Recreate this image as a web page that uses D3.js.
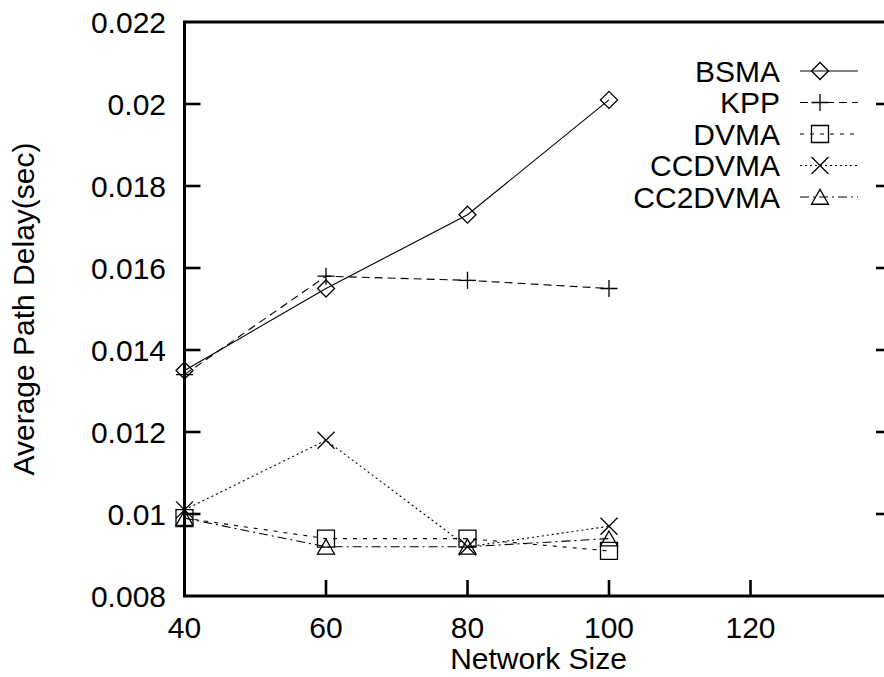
<!DOCTYPE html>
<html><head><meta charset="utf-8">
<script src="https://cdn.jsdelivr.net/npm/d3@7"></script>
<style>body{margin:0;background:#fff}svg{display:block}text{font-family:"Liberation Sans",Arial,sans-serif;fill:#000}</style>
</head><body>
<svg id="c" width="884" height="677"></svg>
<script>
const networkSizes = [40, 60, 80, 100];
const bsma    = [0.0135, 0.0155, 0.0173, 0.0201];
const kpp     = [0.0134, 0.0158, 0.0157, 0.0155];
const dvma    = [0.0099, 0.0094, 0.0094, 0.0091];
const ccdvma  = [0.0101, 0.0118, 0.0092, 0.0097];
const cc2dvma = [0.0099, 0.0092, 0.0092, 0.0094];
const seriesNames = ["BSMA", "KPP", "DVMA", "CCDVMA", "CC2DVMA"];
const xTicks = [40, 60, 80, 100, 120];
const yTicks = [0.008, 0.010, 0.012, 0.014, 0.016, 0.018, 0.020, 0.022];
const yTickLabels = ["0.008", "0.01", "0.012", "0.014", "0.016", "0.018", "0.02", "0.022"];

const series = [
  {name: seriesNames[0], values: bsma,    dash: null,       sym: "diamond"},
  {name: seriesNames[1], values: kpp,     dash: "8,5",      sym: "plus"},
  {name: seriesNames[2], values: dvma,    dash: "4,6",      sym: "square"},
  {name: seriesNames[3], values: ccdvma,  dash: "2,3",      sym: "cross"},
  {name: seriesNames[4], values: cc2dvma, dash: "9,4,2,4",  sym: "triangle"}
];

const FS = 30;
const svg = d3.select("#c");
const L = 184.5, R = 892, T = 22, B = 596;
const x = d3.scaleLinear().domain([40, 140]).range([L, R]);
const y = d3.scaleLinear().domain([0.008, 0.022]).range([B, T]);

function symbol(g, type, cx, cy) {
  const s = 8.5;
  let d;
  if (type === "diamond") d = `M${cx-s},${cy}L${cx},${cy-s}L${cx+s},${cy}L${cx},${cy+s}Z`;
  else if (type === "plus") d = `M${cx-s},${cy}L${cx+s},${cy}M${cx},${cy-s}L${cx},${cy+s}`;
  else if (type === "square") d = `M${cx-s},${cy-s}H${cx+s}V${cy+s}H${cx-s}Z`;
  else if (type === "cross") d = `M${cx-s},${cy-s}L${cx+s},${cy+s}M${cx+s},${cy-s}L${cx-s},${cy+s}`;
  else d = `M${cx-s},${cy+s*0.85}L${cx},${cy-s*0.9}L${cx+s},${cy+s*0.85}Z`;
  g.append("path").attr("d", d).attr("fill", "none").attr("stroke", "#000").attr("stroke-width", 1.3);
}

// ticks (left/right/bottom)
const tickG = svg.append("g");
yTicks.forEach((v, i) => {
  if (i > 0 && i < yTicks.length - 1) {
    tickG.append("line").attr("x1", L).attr("x2", L + 16).attr("y1", y(v)).attr("y2", y(v)).attr("stroke", "#000").attr("stroke-width", 2.6);
    tickG.append("line").attr("x1", R - 16).attr("x2", R).attr("y1", y(v)).attr("y2", y(v)).attr("stroke", "#000").attr("stroke-width", 2.6);
  }
  svg.append("text").attr("x", 166).attr("y", y(v)).attr("dy", "0.36em").attr("text-anchor", "end").attr("font-size", FS).text(yTickLabels[i]);
});
xTicks.forEach(v => {
  if (v !== 40) tickG.append("line").attr("x1", x(v)).attr("x2", x(v)).attr("y1", B).attr("y2", B - 16).attr("stroke", "#000").attr("stroke-width", 2.6);
  svg.append("text").attr("x", x(v)).attr("y", 638).attr("text-anchor", "middle").attr("font-size", FS).text(v);
});

// frame
svg.append("rect").attr("x", L).attr("y", T).attr("width", R - L).attr("height", B - T).attr("fill", "none").attr("stroke", "#000").attr("stroke-width", 3);

// axis titles
svg.append("text").attr("x", x(80) + 71).attr("y", 669).attr("text-anchor", "middle").attr("font-size", FS).text("Network Size");
svg.append("text").attr("transform", `translate(34,${(T + B) / 2}) rotate(-90)`).attr("text-anchor", "middle").attr("font-size", FS).text("Average Path Delay(sec)");

// series
const line = d3.line().x(d => x(d[0])).y(d => y(d[1]));
series.forEach(s => {
  const pts = networkSizes.map((n, i) => [n, s.values[i]]);
  svg.append("path").attr("d", line(pts)).attr("fill", "none").attr("stroke", "#000").attr("stroke-width", 1.1)
    .attr("stroke-dasharray", s.dash);
  const g = svg.append("g");
  pts.forEach(p => symbol(g, s.sym, x(p[0]), y(p[1])));
});

// legend
const legY0 = 71, legDy = 31.5;
series.forEach((s, i) => {
  const ly = legY0 + i * legDy;
  svg.append("text").attr("x", 780).attr("y", ly).attr("dy", "0.36em").attr("text-anchor", "end").attr("font-size", FS).text(s.name);
  svg.append("line").attr("x1", 800).attr("x2", 858).attr("y1", ly).attr("y2", ly).attr("stroke", "#000").attr("stroke-width", 1.1).attr("stroke-dasharray", s.dash);
  symbol(svg.append("g"), s.sym, 820, ly);
});
</script>
</body></html>
